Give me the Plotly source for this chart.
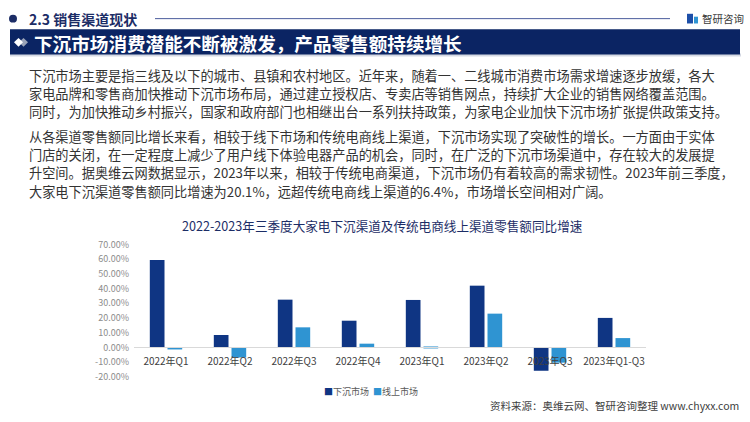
import plotly.graph_objects as go

W, H = 750, 422

categories = ["2022年Q1", "2022年Q2", "2022年Q3", "2022年Q4",
              "2023年Q1", "2023年Q2", "2023年Q3", "2023年Q1-Q3"]
sinking = [59.5, 8.5, 32.5, 18.2, 32.3, 42.0, -15.8, 20.1]
online = [-1.0, -6.8, 13.7, 2.6, 0.6, 23.0, -10.3, 6.4]
series_names = ["下沉市场", "线上市场"]
ytick_vals = [-20, -10, 0, 10, 20, 30, 40, 50, 60, 70]
ytick_text = ["-20.00%", "-10.00%", "0.00%", "10.00%", "20.00%", "30.00%",
              "40.00%", "50.00%", "60.00%", "70.00%"]

section_title = "2.3 销售渠道现状"
banner_title = "下沉市场消费潜能不断被激发，产品零售额持续增长"
para1 = [
    "下沉市场主要是指三线及以下的城市、县镇和农村地区。近年来，随着一、二线城市消费市场需求增速逐步放缓，各大",
    "家电品牌和零售商加快推动下沉市场布局，通过建立授权店、专卖店等销售网点，持续扩大企业的销售网络覆盖范围。",
    "同时，为加快推动乡村振兴，国家和政府部门也相继出台一系列扶持政策，为家电企业加快下沉市场扩张提供政策支持。",
]
para2 = [
    "从各渠道零售额同比增长来看，相较于线下市场和传统电商线上渠道，下沉市场实现了突破性的增长。一方面由于实体",
    "门店的关闭，在一定程度上减少了用户线下体验电器产品的机会，同时，在广泛的下沉市场渠道中，存在较大的发展提",
    "升空间。据奥维云网数据显示，2023年以来，相较于传统电商渠道，下沉市场仍有着较高的需求韧性。2023年前三季度，",
    "大家电下沉渠道零售额同比增速为20.1%，远超传统电商线上渠道的6.4%，市场增长空间相对广阔。",
]
chart_title = "2022-2023年三季度大家电下沉渠道及传统电商线上渠道零售额同比增速"
source_text = "资料来源：奥维云网、智研咨询整理 www.chyxx.com"
logo_text = "智研咨询"

FONT = "Noto Sans CJK SC, Noto Sans, sans-serif"
DARK = "#0f3583"
LIGHT = "#2f94d2"
NAVY = "#0b2463"
series_colors = [DARK, LIGHT]


def px(x):
    return x / W


def py(y):
    return 1 - y / H


# plot area in pixels
x0p, x1p = 134, 646
ytop, ybot = 245, 381.7
ymin, ymax = -20, 70
yd0, yd1 = py(ybot), py(ytop)
zero_paper = yd0 + (yd1 - yd0) * (0 - ymin) / (ymax - ymin)

fig = go.Figure()
fig.add_trace(go.Bar(x=categories, y=sinking, name=series_names[0],
                     marker=dict(color=DARK, line=dict(width=0))))
fig.add_trace(go.Bar(x=categories, y=online, name=series_names[1],
                     marker=dict(color=LIGHT, line=dict(width=0))))

shapes = []
# section bullet and rule
shapes.append(dict(type="circle", xref="paper", yref="paper",
                   x0=px(9), x1=px(17), y0=py(16), y1=py(8),
                   fillcolor="#1c2d66", line=dict(width=0)))
shapes.append(dict(type="line", xref="paper", yref="paper",
                   x0=px(155), x1=px(670), y0=py(12), y1=py(12),
                   line=dict(color="#4b5c9c", width=1)))
# banner shadow + banner
shapes.append(dict(type="rect", xref="paper", yref="paper",
                   x0=px(10), x1=px(741), y0=py(51), y1=py(48),
                   fillcolor="#d5d9e3", line=dict(width=0)))
shapes.append(dict(type="rect", xref="paper", yref="paper",
                   x0=px(10), x1=px(740), y0=py(49), y1=py(23),
                   fillcolor=NAVY, line=dict(width=0)))


def diamond(cx, cy, r, color):
    pts = [(cx - r, cy), (cx, cy - r), (cx + r, cy), (cx, cy + r)]
    d = "M " + " L ".join(f"{px(a):.5f},{py(b):.5f}" for a, b in pts) + " Z"
    return dict(type="path", xref="paper", yref="paper", path=d,
                fillcolor=color, line=dict(width=0))


shapes.append(diamond(23.5, 36.5, 4.5, "#9aa3b8"))
shapes.append(diamond(18.5, 36.5, 4.5, "#ffffff"))
# logo icon
shapes.append(dict(type="rect", xref="paper", yref="paper",
                   x0=px(687), x1=px(693), y0=py(17), y1=py(7),
                   fillcolor="#1d4fa8", line=dict(width=0)))
shapes.append(dict(type="rect", xref="paper", yref="paper",
                   x0=px(694), x1=px(698), y0=py(17), y1=py(10),
                   fillcolor="#2f94d2", line=dict(width=0)))

annotations = []
annotations.append(dict(text=section_title, x=px(27), y=py(12.5), xref="paper", yref="paper",
                        xanchor="left", yanchor="middle", showarrow=False,
                        font=dict(family=FONT, size=14, color="#1c2d66", weight="bold")))
annotations.append(dict(text=logo_text, x=px(700), y=py(12), xref="paper", yref="paper",
                        xanchor="left", yanchor="middle", showarrow=False,
                        font=dict(family=FONT, size=10.5, color="#3a3a3a")))
annotations.append(dict(text=banner_title, x=px(32), y=py(36.5), xref="paper", yref="paper",
                        xanchor="left", yanchor="middle", showarrow=False,
                        font=dict(family=FONT, size=18.6, color="#ffffff", weight="bold")))

LINE_STEP = 18.8
for i, line in enumerate(para1):
    annotations.append(dict(text=line, x=px(27), y=py(70.5 + i * LINE_STEP), xref="paper", yref="paper",
                            xanchor="left", yanchor="middle", showarrow=False,
                            font=dict(family=FONT, size=13.2, color="#333333")))
for i, line in enumerate(para2):
    annotations.append(dict(text=line, x=px(27), y=py(133.5 + i * LINE_STEP), xref="paper", yref="paper",
                            xanchor="left", yanchor="middle", showarrow=False,
                            font=dict(family=FONT, size=13.2, color="#333333")))

annotations.append(dict(text=chart_title, x=px(382), y=py(225), xref="paper", yref="paper",
                        xanchor="center", yanchor="middle", showarrow=False,
                        font=dict(family=FONT, size=12.6, color="#1c2d66")))
annotations.append(dict(text=source_text, x=px(741), y=py(411), xref="paper", yref="paper",
                        xanchor="right", yanchor="middle", showarrow=False,
                        font=dict(family=FONT, size=10.5, color="#404040")))

# compact legend, built from the series names and colours
legend_html = "&nbsp;&nbsp;".join(
    f"<span style='color:{c}'>■</span>{n}" for n, c in zip(series_names, series_colors))
annotations.append(dict(text=legend_html, x=px(371), y=py(397), xref="paper", yref="paper",
                        xanchor="center", yanchor="middle", showarrow=False,
                        font=dict(family=FONT, size=9, color="#595959")))

fig.update_layout(
    width=W, height=H,
    margin=dict(l=0, r=0, t=0, b=0),
    paper_bgcolor="#ffffff", plot_bgcolor="rgba(0,0,0,0)",
    barmode="group", bargap=0.447, bargroupgap=0.17,
    font=dict(family=FONT),
    showlegend=False,
    xaxis=dict(domain=[px(x0p), px(x1p)], range=[-0.5, 7.5], anchor="free",
               position=zero_paper, showline=True, linecolor="#d9d9d9", linewidth=1,
               showgrid=False, zeroline=False, ticks="", ticklabelstandoff=5,
               tickfont=dict(family=FONT, size=10, color="#404040"), fixedrange=True),
    yaxis=dict(domain=[yd0, yd1], range=[ymin, ymax], tickvals=ytick_vals, ticktext=ytick_text,
               showgrid=False, zeroline=False, showline=False, ticks="",
               tickfont=dict(family=FONT, size=9, color="#8c8c8c"), ticklabelstandoff=4),
    shapes=shapes,
    annotations=annotations,
)

fig.write_html("out.html")
